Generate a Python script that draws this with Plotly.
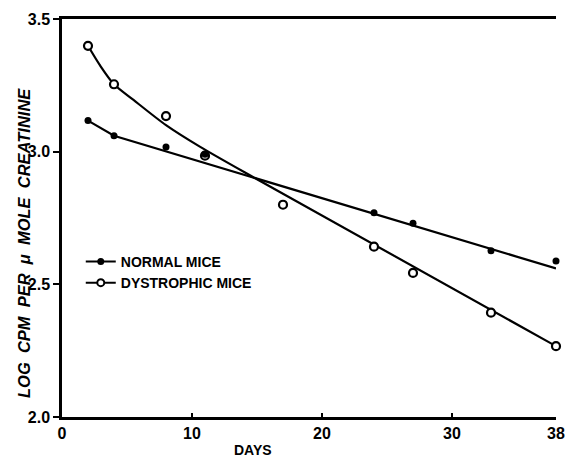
import plotly.graph_objects as go

# Measured points
normal_days = [2, 4, 8, 11, 24, 27, 33, 38]
normal_vals = [3.117, 3.060, 3.018, 2.990, 2.770, 2.730, 2.627, 2.588]

dys_days = [2, 4, 8, 11, 17, 24, 27, 33, 38]
dys_vals = [3.399, 3.254, 3.134, 2.985, 2.800, 2.642, 2.543, 2.393, 2.267]

# Hand-drawn fitted curves
normal_fit_days = [2, 4, 38]
normal_fit_vals = [3.117, 3.060, 2.560]

dys_fit_days = [2, 2.9, 4, 5.5, 8, 10.6, 15, 38]
dys_fit_vals = [3.399, 3.327, 3.254, 3.195, 3.100, 3.019, 2.896, 2.267]

x_ticks = [0, 10, 20, 30, 38]
y_ticks = [2.0, 2.5, 3.0, 3.5]
y_tick_text = ["2.0", "2.5", "3.0", "3.5"]

FONT = "Liberation Sans"

fig = go.Figure()

fig.add_trace(go.Scatter(x=normal_fit_days, y=normal_fit_vals, mode="lines",
                         line=dict(color="black", width=2.2), showlegend=False,
                         hoverinfo="skip"))
fig.add_trace(go.Scatter(x=dys_fit_days, y=dys_fit_vals, mode="lines",
                         line=dict(color="black", width=2.2, shape="spline", smoothing=0.8),
                         showlegend=False, hoverinfo="skip"))

fig.add_trace(go.Scatter(x=dys_days, y=dys_vals, mode="markers",
                         name="DYSTROPHIC MICE",
                         marker=dict(symbol="circle", size=8, color="white",
                                     line=dict(color="black", width=2.2)),
                         showlegend=False, cliponaxis=False))
fig.add_trace(go.Scatter(x=normal_days, y=normal_vals, mode="markers",
                         name="NORMAL MICE",
                         marker=dict(symbol="circle", size=7, color="black"),
                         showlegend=False, cliponaxis=False))

# legend entries
fig.add_trace(go.Scatter(x=[None], y=[None], mode="lines+markers", name="<b>NORMAL MICE</b>",
                         line=dict(color="black", width=2),
                         marker=dict(symbol="circle", size=7, color="black")))
fig.add_trace(go.Scatter(x=[None], y=[None], mode="lines+markers", name="<b>DYSTROPHIC MICE</b>",
                         line=dict(color="black", width=2),
                         marker=dict(symbol="circle", size=7, color="white",
                                     line=dict(color="black", width=2))))

fig.update_layout(
    width=565, height=458,
    margin=dict(l=62, r=9, t=19, b=41, autoexpand=False),
    paper_bgcolor="white", plot_bgcolor="white",
    font=dict(family=FONT, color="black", size=13),
    legend=dict(x=0.038, y=0.43, xanchor="left", yanchor="top",
                bgcolor="rgba(0,0,0,0)", tracegroupgap=0, itemwidth=30,
                font=dict(family=FONT, size=14, color="black")),
    annotations=[
        dict(text="<b>DAYS</b>", xref="paper", yref="paper", x=0.387, y=-0.083,
             xanchor="center", yanchor="middle", showarrow=False,
             font=dict(family=FONT, size=14, color="black")),
        dict(text="<b><i>LOG  CPM  PER  μ  MOLE  CREATININE</i></b>",
             xref="paper", yref="paper", x=-0.077, y=0.437, textangle=-90,
             xanchor="center", yanchor="middle", showarrow=False,
             font=dict(family=FONT, size=16.5, color="black")),
    ],
)

fig.update_xaxes(range=[0, 38], tickvals=x_ticks,
                 ticktext=["<b>%d</b>" % v for v in x_ticks],
                 showline=True, linecolor="black", linewidth=2.5, mirror=True,
                 ticks="inside", ticklen=4, tickwidth=2, tickcolor="black",
                 showgrid=False, zeroline=False, automargin=False,
                 tickfont=dict(family=FONT, size=16, color="black"))
fig.update_yaxes(range=[2.0, 3.5], tickvals=y_ticks,
                 ticktext=["<b>%s</b>" % t for t in y_tick_text],
                 showline=True, linecolor="black", linewidth=2.5,
                 ticks="outside", ticklen=6, tickwidth=2, tickcolor="black",
                 showgrid=False, zeroline=False, automargin=False,
                 tickfont=dict(family=FONT, size=16, color="black"))

fig.write_html("out.html", config={"displayModeBar": False},
               post_script="document.body.style.margin='0';document.body.style.overflow='hidden';")
